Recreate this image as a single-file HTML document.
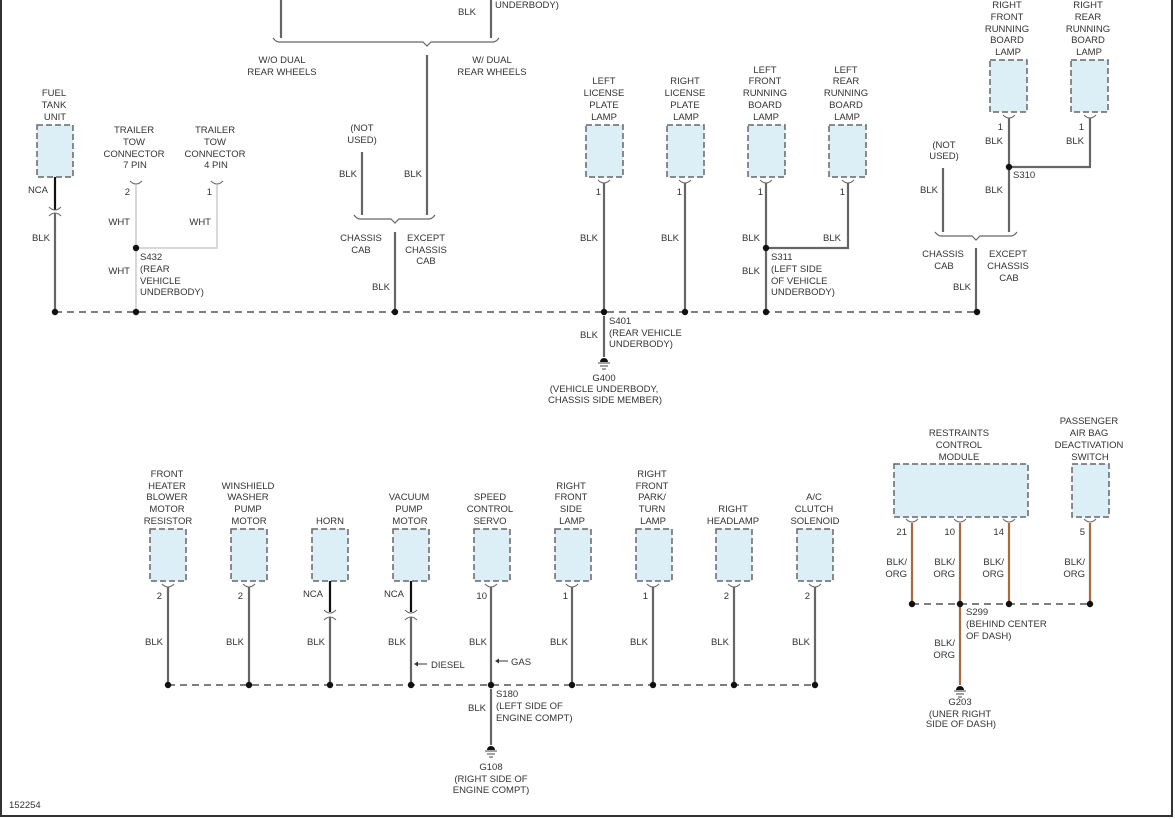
<!DOCTYPE html>
<html><head><meta charset="utf-8"><style>
html,body{margin:0;padding:0;background:#fff}
svg{display:block}
text{font-family:"Liberation Sans",sans-serif;font-size:9.5px;fill:#333}
.m{text-anchor:middle}.e{text-anchor:end}
.bx{fill:#dceef6;stroke:#666;stroke-width:1.5;stroke-dasharray:6,3}
.w{stroke:#666;stroke-width:2.2;fill:none}
.k{stroke:#111;stroke-width:2.2;fill:none}
.wh{stroke:#ccc;stroke-width:1.5;fill:none}
.o{stroke:#a86a40;stroke-width:2.2;fill:none}
.bus{stroke:#555;stroke-width:1.5;stroke-dasharray:7,5;fill:none}
.c{stroke:#666;stroke-width:1;fill:none}
.br{stroke:#666;stroke-width:1.2;fill:none}
</style></head><body>
<svg width="1175" height="819" viewBox="0 0 1175 819" xmlns="http://www.w3.org/2000/svg">
<rect x="1" y="-2" width="1171" height="818" fill="none" stroke="#333" stroke-width="2"/>
<text x="9" y="808">152254</text>

<!-- TOP: brace section -->
<path class="w" d="M281 0V38M491 0V38"/>
<path class="br" d="M273 38q3 4 6 4H423l4 4 4-4H493q3 0 6-4"/>
<text x="491" y="15" class="e" style="text-anchor:end" transform="translate(-15,0)">BLK</text>
<text x="495" y="8">UNDERBODY)</text>
<text x="282" y="63" class="m">W/O DUAL</text><text x="282" y="75" class="m">REAR WHEELS</text>
<text x="492" y="63" class="m">W/ DUAL</text><text x="492" y="75" class="m">REAR WHEELS</text>
<path class="w" d="M427 55V215"/>
<text x="362" y="131" class="m">(NOT</text><text x="362" y="143" class="m">USED)</text>
<path class="w" d="M362 152V215"/>
<text x="357" y="177" class="e">BLK</text><text x="422" y="177" class="e">BLK</text>
<path class="br" d="M354 215q3 4 6 4H391l4 4 4-4H429q3 0 6-4"/>
<text x="361" y="241" class="m">CHASSIS</text><text x="361" y="253" class="m">CAB</text>
<text x="426" y="241" class="m">EXCEPT</text><text x="426" y="253" class="m">CHASSIS</text><text x="426" y="264" class="m">CAB</text>
<path class="w" d="M395 232V312"/>
<text x="390" y="290" class="e">BLK</text>

<!-- Fuel tank -->
<text x="54" y="96" class="m">FUEL</text><text x="54" y="108" class="m">TANK</text><text x="55" y="120" class="m">UNIT</text>
<rect class="bx" x="37" y="125" width="36" height="52"/>
<path class="k" d="M55 177V210"/>
<path class="c" d="M49 207q6 6 12 0M49 216q6-6 12 0"/>
<path class="w" d="M55 213V312"/>
<text x="48" y="193" class="e">NCA</text><text x="50" y="241" class="e">BLK</text>

<!-- Trailer -->
<text x="134" y="133" class="m">TRAILER</text><text x="134" y="145" class="m">TOW</text><text x="134" y="157" class="m">CONNECTOR</text><text x="135" y="168" class="m">7 PIN</text>
<text x="215" y="133" class="m">TRAILER</text><text x="215" y="145" class="m">TOW</text><text x="215" y="157" class="m">CONNECTOR</text><text x="216" y="168" class="m">4 PIN</text>
<path class="c" d="M130 181q6 6 12 0M211 181q6 6 12 0"/>
<path class="wh" d="M136 185V312M136 248H217V185"/>
<text x="130" y="195" class="e">2</text><text x="212" y="195" class="e">1</text>
<text x="130" y="225" class="e">WHT</text><text x="211" y="225" class="e">WHT</text>
<text x="130" y="274" class="e">WHT</text>
<circle cx="136" cy="248" r="3.2" fill="#111"/>
<text x="140" y="260">S432</text><text x="140" y="272">(REAR</text><text x="140" y="284">VEHICLE</text><text x="140" y="295">UNDERBODY)</text>

<!-- Top right lamps -->
<g>
<text x="604" y="84" class="m">LEFT</text><text x="604" y="96" class="m">LICENSE</text><text x="604" y="108" class="m">PLATE</text><text x="604" y="120" class="m">LAMP</text>
<text x="685" y="84" class="m">RIGHT</text><text x="685" y="96" class="m">LICENSE</text><text x="685" y="108" class="m">PLATE</text><text x="686" y="120" class="m">LAMP</text>
<text x="765" y="73" class="m">LEFT</text><text x="765" y="84" class="m">FRONT</text><text x="765" y="96" class="m">RUNNING</text><text x="765" y="108" class="m">BOARD</text><text x="766" y="120" class="m">LAMP</text>
<text x="846" y="73" class="m">LEFT</text><text x="846" y="84" class="m">REAR</text><text x="846" y="96" class="m">RUNNING</text><text x="846" y="108" class="m">BOARD</text><text x="847" y="120" class="m">LAMP</text>
<rect class="bx" x="586" y="125" width="37" height="52"/>
<rect class="bx" x="667" y="125" width="37" height="52"/>
<rect class="bx" x="748" y="125" width="37" height="52"/>
<rect class="bx" x="829" y="125" width="37" height="52"/>
<path class="c" d="M598 180q6 6 12 0M679 180q6 6 12 0M760 180q6 6 12 0M842 180q6 6 12 0"/>
<path class="w" d="M604 183V312M685 183V312M766 183V312M766 248H848V183"/>
<text x="601" y="195" class="e">1</text><text x="682" y="195" class="e">1</text><text x="763" y="195" class="e">1</text><text x="845" y="195" class="e">1</text>
<text x="598" y="241" class="e">BLK</text><text x="679" y="241" class="e">BLK</text><text x="760" y="241" class="e">BLK</text><text x="841" y="241" class="e">BLK</text>
<circle cx="766" cy="248" r="3.2" fill="#111"/>
<text x="760" y="274" class="e">BLK</text>
<text x="771" y="260">S311</text><text x="771" y="272">(LEFT SIDE</text><text x="771" y="284">OF VEHICLE</text><text x="771" y="295">UNDERBODY)</text>
</g>

<!-- far right top -->
<text x="1007" y="8" class="m">RIGHT</text><text x="1007" y="20" class="m">FRONT</text><text x="1007" y="32" class="m">RUNNING</text><text x="1007" y="43" class="m">BOARD</text><text x="1008" y="55" class="m">LAMP</text>
<text x="1088" y="8" class="m">RIGHT</text><text x="1088" y="20" class="m">REAR</text><text x="1088" y="32" class="m">RUNNING</text><text x="1088" y="43" class="m">BOARD</text><text x="1089" y="55" class="m">LAMP</text>
<rect class="bx" x="990" y="60" width="37" height="52"/>
<rect class="bx" x="1071" y="60" width="37" height="52"/>
<path class="c" d="M1003 115q6 6 12 0M1084 115q6 6 12 0"/>
<path class="w" d="M1009 118V232M1009 167H1090V118"/>
<circle cx="1009" cy="167" r="3.2" fill="#111"/>
<text x="1003" y="130" class="e">1</text><text x="1084" y="130" class="e">1</text>
<text x="1003" y="144" class="e">BLK</text><text x="1084" y="144" class="e">BLK</text>
<text x="1013" y="178">S310</text>
<text x="1003" y="193" class="e">BLK</text>
<text x="944" y="148" class="m">(NOT</text><text x="944" y="159" class="m">USED)</text>
<path class="w" d="M943 168V232"/>
<text x="938" y="193" class="e">BLK</text>
<path class="br" d="M935 232q3 4 6 4H972l4 4 4-4H1011q3 0 6-4"/>
<text x="943" y="257" class="m">CHASSIS</text><text x="944" y="269" class="m">CAB</text>
<text x="1008" y="257" class="m">EXCEPT</text><text x="1008" y="269" class="m">CHASSIS</text><text x="1009" y="281" class="m">CAB</text>
<path class="w" d="M976 248V312"/>
<text x="971" y="290" class="e">BLK</text>

<!-- top bus -->
<path class="bus" d="M55 312H977"/>
<g fill="#111"><circle cx="55" cy="312" r="3.2"/><circle cx="136" cy="312" r="3.2"/><circle cx="395" cy="312" r="3.2"/><circle cx="604" cy="312" r="3.2"/><circle cx="685" cy="312" r="3.2"/><circle cx="766" cy="312" r="3.2"/><circle cx="977" cy="312" r="3.2"/></g>
<path class="w" d="M604 316V357"/>
<text x="598" y="338" class="e">BLK</text>
<text x="609" y="324">S401</text><text x="609" y="336">(REAR VEHICLE</text><text x="609" y="347">UNDERBODY)</text>
<path d="M600 362a4 4 0 0 1 8 0z" fill="#111"/><path d="M598 363H610M600 366H608M602 369H606" stroke="#444" stroke-width="1"/>
<text x="604" y="381" class="m">G400</text><text x="604" y="392" class="m">(VEHICLE UNDERBODY,</text><text x="605" y="403" class="m">CHASSIS SIDE MEMBER)</text>

<!-- Bottom section -->
<g>
<text x="167" y="477" class="m">FRONT</text><text x="167" y="489" class="m">HEATER</text><text x="167" y="500" class="m">BLOWER</text><text x="167" y="512" class="m">MOTOR</text><text x="168" y="524" class="m">RESISTOR</text>
<text x="248" y="489" class="m">WINSHIELD</text><text x="248" y="500" class="m">WASHER</text><text x="248" y="512" class="m">PUMP</text><text x="249" y="524" class="m">MOTOR</text>
<text x="330" y="524" class="m">HORN</text>
<text x="409" y="500" class="m">VACUUM</text><text x="409" y="512" class="m">PUMP</text><text x="410" y="524" class="m">MOTOR</text>
<text x="490" y="500" class="m">SPEED</text><text x="490" y="512" class="m">CONTROL</text><text x="490" y="524" class="m">SERVO</text>
<text x="571" y="489" class="m">RIGHT</text><text x="571" y="500" class="m">FRONT</text><text x="571" y="512" class="m">SIDE</text><text x="572" y="524" class="m">LAMP</text>
<text x="652" y="477" class="m">RIGHT</text><text x="652" y="489" class="m">FRONT</text><text x="652" y="500" class="m">PARK/</text><text x="652" y="512" class="m">TURN</text><text x="653" y="524" class="m">LAMP</text>
<text x="733" y="512" class="m">RIGHT</text><text x="733" y="524" class="m">HEADLAMP</text>
<text x="814" y="500" class="m">A/C</text><text x="814" y="512" class="m">CLUTCH</text><text x="815" y="524" class="m">SOLENOID</text>
<rect class="bx" x="150" y="529" width="36" height="52"/><rect class="bx" x="231" y="529" width="36" height="52"/><rect class="bx" x="312" y="529" width="36" height="52"/><rect class="bx" x="393" y="529" width="36" height="52"/><rect class="bx" x="474" y="529" width="36" height="52"/><rect class="bx" x="555" y="529" width="36" height="52"/><rect class="bx" x="636" y="529" width="36" height="52"/><rect class="bx" x="716" y="529" width="36" height="52"/><rect class="bx" x="797" y="529" width="36" height="52"/>
<path class="c" d="M162 584q6 6 12 0M243 584q6 6 12 0M485 584q6 6 12 0M566 584q6 6 12 0M647 584q6 6 12 0M728 584q6 6 12 0M809 584q6 6 12 0"/>
<path class="w" d="M168 587V685M249 587V685M491 587V685M572 587V685M653 587V685M734 587V685M815 587V685"/>
<path class="k" d="M330 581V612M411 581V612"/>
<path class="c" d="M324 610q6 6 12 0M324 620q6-6 12 0M405 610q6 6 12 0M405 620q6-6 12 0"/>
<path class="w" d="M330 617V685M411 617V685"/>
<text x="162" y="599" class="e">2</text><text x="243" y="599" class="e">2</text><text x="487" y="599" class="e">10</text><text x="568" y="599" class="e">1</text><text x="648" y="599" class="e">1</text><text x="729" y="599" class="e">2</text><text x="810" y="599" class="e">2</text>
<text x="323" y="597" class="e">NCA</text><text x="404" y="597" class="e">NCA</text>
<text x="163" y="645" class="e">BLK</text><text x="244" y="645" class="e">BLK</text><text x="325" y="645" class="e">BLK</text><text x="406" y="645" class="e">BLK</text><text x="487" y="645" class="e">BLK</text><text x="568" y="645" class="e">BLK</text><text x="648" y="645" class="e">BLK</text><text x="729" y="645" class="e">BLK</text><text x="810" y="645" class="e">BLK</text>
<path d="M415 664H427M496 661H508" stroke="#333" stroke-width="1"/><path d="M414 664l4-2.5v5zM495 661l4-2.5v5z" fill="#333"/>
<text x="431" y="668">DIESEL</text><text x="511" y="665">GAS</text>
<path class="bus" d="M168 685H815"/>
<g fill="#111"><circle cx="168" cy="685" r="3.2"/><circle cx="249" cy="685" r="3.2"/><circle cx="330" cy="685" r="3.2"/><circle cx="411" cy="685" r="3.2"/><circle cx="491" cy="685" r="3.2"/><circle cx="572" cy="685" r="3.2"/><circle cx="653" cy="685" r="3.2"/><circle cx="734" cy="685" r="3.2"/><circle cx="815" cy="685" r="3.2"/></g>
<path class="w" d="M491 689V745"/>
<text x="486" y="711" class="e">BLK</text>
<text x="496" y="697">S180</text><text x="496" y="709">(LEFT SIDE OF</text><text x="496" y="721">ENGINE COMPT)</text>
<path d="M487 750a4 4 0 0 1 8 0z" fill="#111"/><path d="M485 751H497M487 754H495M489 757H493" stroke="#444" stroke-width="1"/>
<text x="491" y="770" class="m">G108</text><text x="491" y="782" class="m">(RIGHT SIDE OF</text><text x="491" y="793" class="m">ENGINE COMPT)</text>
</g>

<!-- Restraints -->
<text x="959" y="436" class="m">RESTRAINTS</text><text x="959" y="448" class="m">CONTROL</text><text x="959" y="460" class="m">MODULE</text>
<text x="1089" y="424" class="m">PASSENGER</text><text x="1089" y="436" class="m">AIR BAG</text><text x="1089" y="448" class="m">DEACTIVATION</text><text x="1090" y="460" class="m">SWITCH</text>
<rect class="bx" x="894" y="464" width="134" height="53"/>
<rect class="bx" x="1072" y="464" width="37" height="53"/>
<path class="c" d="M906 519q6 6 12 0M954 519q6 6 12 0M1003 519q6 6 12 0M1084 519q6 6 12 0"/>
<path class="o" d="M912 523V604M960 523V685M1009 523V604M1090 523V604"/>
<text x="907" y="535" class="e">21</text><text x="955" y="535" class="e">10</text><text x="1004" y="535" class="e">14</text><text x="1085" y="535" class="e">5</text>
<text x="907" y="565" class="e">BLK/</text><text x="907" y="577" class="e">ORG</text>
<text x="955" y="565" class="e">BLK/</text><text x="955" y="577" class="e">ORG</text>
<text x="1004" y="565" class="e">BLK/</text><text x="1004" y="577" class="e">ORG</text>
<text x="1085" y="565" class="e">BLK/</text><text x="1085" y="577" class="e">ORG</text>
<path class="bus" d="M912 604H1090"/>
<g fill="#111"><circle cx="912" cy="604" r="3.2"/><circle cx="960" cy="604" r="3.2"/><circle cx="1009" cy="604" r="3.2"/><circle cx="1090" cy="604" r="3.2"/></g>
<text x="966" y="615">S299</text><text x="966" y="627">(BEHIND CENTER</text><text x="966" y="639">OF DASH)</text>
<text x="955" y="646" class="e">BLK/</text><text x="955" y="658" class="e">ORG</text>
<path d="M956 690a4 4 0 0 1 8 0z" fill="#111"/><path d="M954 691H966M956 694H964M958 697H962" stroke="#444" stroke-width="1"/>
<text x="960" y="705" class="m">G203</text><text x="960" y="717" class="m">(UNER RIGHT</text><text x="961" y="727" class="m">SIDE OF DASH)</text>
</svg>
</body></html>
